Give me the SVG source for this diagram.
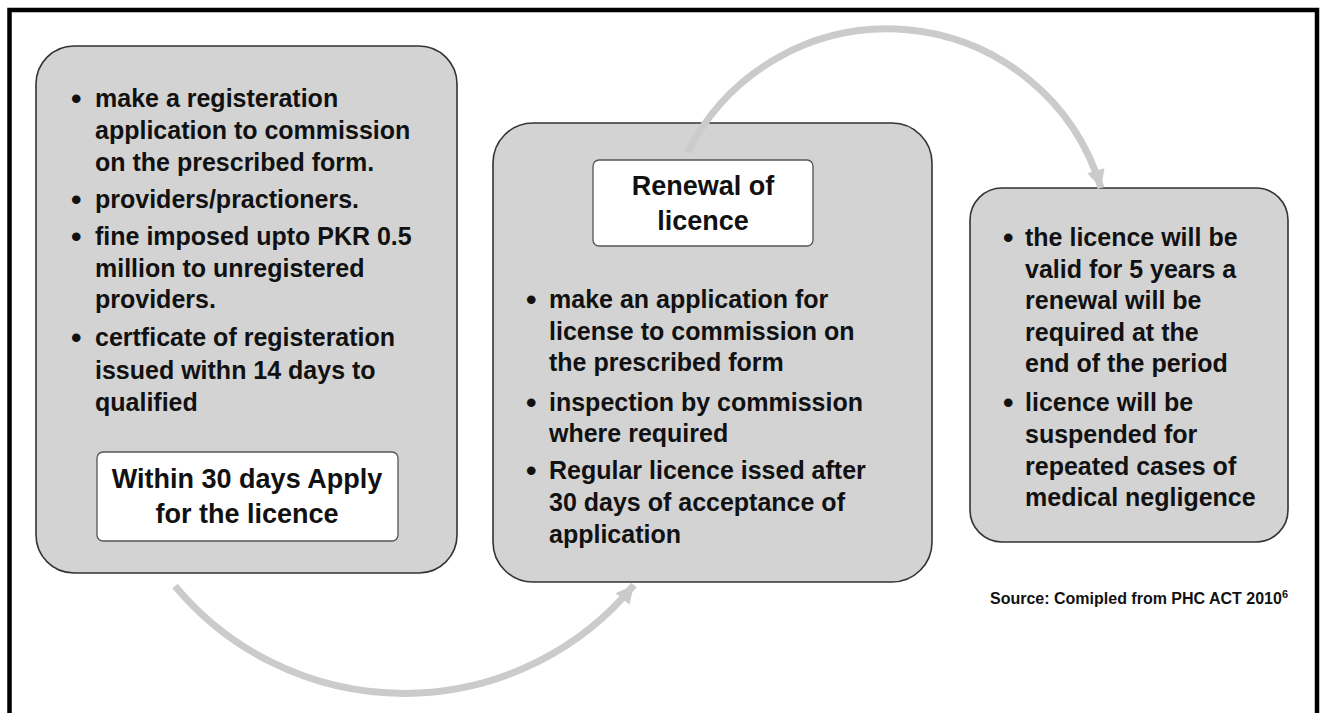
<svg xmlns="http://www.w3.org/2000/svg" width="1324" height="713" viewBox="0 0 1324 713">
<style>
.box{fill:#d3d3d3;stroke:#333;stroke-width:1.6}
.tag{fill:#fff;stroke:#555;stroke-width:1.3}
.t{font-family:"Liberation Sans",Arial,sans-serif;font-weight:bold;font-size:25px;fill:#111}
.h{font-family:"Liberation Sans",Arial,sans-serif;font-weight:bold;font-size:27px;fill:#111;text-anchor:middle}
.b{font-family:"Liberation Sans",Arial,sans-serif;font-weight:bold;font-size:30px;fill:#111}
.src{font-family:"Liberation Sans",Arial,sans-serif;font-weight:bold;font-size:16px;fill:#111}
.arc{fill:none;stroke:#cbcbcb;stroke-width:7}
</style>
<defs>
<marker id="ah" markerUnits="userSpaceOnUse" markerWidth="24" markerHeight="24" viewBox="0 0 24 24" refX="20" refY="12" orient="auto">
<path d="M2 3 L20 12 L2 21 Z" fill="#cbcbcb"/>
</marker>
</defs>
<rect width="1324" height="713" fill="#fff"/>
<path d="M9.5 713 V10 H1317 V713" fill="none" stroke="#000" stroke-width="4.5"/>

<g id="node-registration">
<rect class="box" x="36" y="46" width="421" height="527" rx="38"/>
<text class="b" x="71" y="109">•</text>
<text class="t" x="95" y="107">make a registeration</text>
<text class="t" x="95" y="139">application to commission</text>
<text class="t" x="95" y="171">on the prescribed form.</text>
<text class="b" x="71" y="210">•</text>
<text class="t" x="95" y="208">providers/practioners.</text>
<text class="b" x="71" y="247">•</text>
<text class="t" x="95" y="245">fine imposed upto PKR 0.5</text>
<text class="t" x="95" y="277">million to unregistered</text>
<text class="t" x="95" y="308">providers.</text>
<text class="b" x="71" y="348">•</text>
<text class="t" x="95" y="346">certficate of registeration</text>
<text class="t" x="95" y="379">issued withn 14 days to</text>
<text class="t" x="95" y="411">qualified</text>
<rect class="tag" x="97" y="452" width="301" height="89" rx="6"/>
<text class="h" x="247" y="488">Within 30 days Apply</text>
<text class="h" x="247" y="523">for the licence</text>
</g>

<g id="node-renewal">
<rect class="box" x="493" y="123" width="439" height="459" rx="40"/>
<rect class="tag" x="593" y="160" width="220" height="86" rx="6"/>
<text class="h" x="703" y="195">Renewal of</text>
<text class="h" x="703" y="230">licence</text>
<text class="b" x="526" y="310">•</text>
<text class="t" x="549" y="308">make an application for</text>
<text class="t" x="549" y="340">license to commission on</text>
<text class="t" x="549" y="371">the prescribed form</text>
<text class="b" x="526" y="413">•</text>
<text class="t" x="549" y="411">inspection by commission</text>
<text class="t" x="549" y="442">where required</text>
<text class="b" x="526" y="481">•</text>
<text class="t" x="549" y="479">Regular licence issed after</text>
<text class="t" x="549" y="511">30 days of acceptance of</text>
<text class="t" x="549" y="543">application</text>
</g>

<g id="node-validity">
<rect class="box" x="970" y="188" width="318" height="354" rx="32"/>
<text class="b" x="1003" y="248">•</text>
<text class="t" x="1025" y="246">the licence will be</text>
<text class="t" x="1025" y="278">valid for 5 years a</text>
<text class="t" x="1025" y="309">renewal will be</text>
<text class="t" x="1025" y="341">required at the</text>
<text class="t" x="1025" y="372">end of the period</text>
<text class="b" x="1003" y="413">•</text>
<text class="t" x="1025" y="411">licence will be</text>
<text class="t" x="1025" y="443">suspended for</text>
<text class="t" x="1025" y="475">repeated cases of</text>
<text class="t" x="1025" y="506">medical negligence</text>
</g>

<g id="source">
<text class="src" x="990" y="604">Source: Comipled from PHC ACT 2010<tspan font-size="11" dy="-6">6</tspan></text>
</g>

<g id="connectors">
<path class="arc" d="M175 586 A298 298 0 0 0 634 585" marker-end="url(#ah)"/>
<path class="arc" d="M688 152 A223 223 0 0 1 1101 188" marker-end="url(#ah)"/>
</g>
</svg>
